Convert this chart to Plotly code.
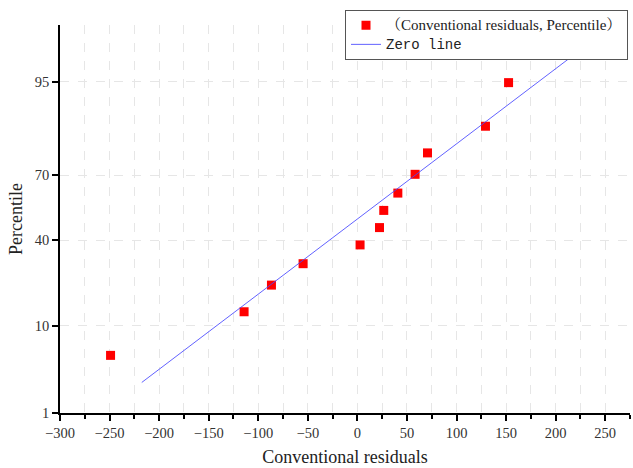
import plotly.graph_objects as go
from statistics import NormalDist

# Data
residuals = [-249, -114.3, -86.7, -54.8, 2.7, 22.3, 26.6, 40.8, 58.2, 70.7, 129.2, 152.5]
percentiles = [5.1, 13.3, 21.4, 29.6, 37.8, 45.9, 54.1, 62.2, 70.4, 78.6, 86.7, 94.9]
line_x = [-217.5, 217.5]
line_pct = [2.5, 97.5]
y_tick_labels = [1, 10, 40, 70, 95]

nd = NormalDist()
def probit(p):
    return nd.inv_cdf(p / 100.0)

serif = "Liberation Serif, Times New Roman, Noto Serif CJK SC, serif"

fig = go.Figure()
fig.add_trace(go.Scatter(
    x=residuals, y=[probit(p) for p in percentiles], mode="markers",
    marker=dict(symbol="square", size=9, color="#ff0000"),
    name='<span style="font-size:15px">（Conventional residuals, Percentile）</span>'))
fig.add_trace(go.Scatter(
    x=line_x, y=[probit(p) for p in line_pct], mode="lines",
    line=dict(color="rgba(70,70,255,0.85)", width=1),
    name='<span style="font-family:Liberation Mono, monospace;font-size:14px">Zero line</span>'))

fig.update_layout(
    width=633, height=468,
    margin=dict(l=60, r=3, t=25, b=55, autoexpand=False),
    paper_bgcolor="white", plot_bgcolor="white",
    font=dict(family=serif, color="#222222", size=13),
    showlegend=True,
    legend=dict(x=0.5, y=1.039, xanchor="left", yanchor="top",
                bordercolor="#555555", borderwidth=1, bgcolor="white",
                font=dict(size=11, family=serif), tracegroupgap=0,
                itemwidth=30),
    xaxis=dict(
        range=[-300, 275], tickmode="linear", tick0=-300, dtick=50,
        showline=True, linecolor="black", linewidth=1.5,
        ticks="outside", ticklen=6, tickcolor="black", tickwidth=1.5,
        showgrid=True, gridcolor="#e6e6e6", griddash="dash", gridwidth=1,
        zeroline=False,
        minor=dict(dtick=25, ticks="outside", ticklen=4, tickcolor="black",
                   showgrid=True, gridcolor="#e6e6e6", griddash="dash"),
        title=dict(text="Conventional residuals", font=dict(size=18, family=serif), standoff=10),
        tickfont=dict(size=14.5, family=serif, color="#333333"),
    ),
    yaxis=dict(
        range=[probit(1), probit(99)],
        tickmode="array", tickvals=[probit(v) for v in y_tick_labels],
        ticktext=[str(v) for v in y_tick_labels],
        showline=True, linecolor="black", linewidth=1.5,
        ticks="outside", ticklen=6, tickcolor="black", tickwidth=1.5,
        showgrid=True, gridcolor="#e6e6e6", griddash="dash", gridwidth=1,
        zeroline=False,
        title=dict(text="Percentile", font=dict(size=18, family=serif), standoff=8),
        tickfont=dict(size=14.5, family=serif, color="#333333"),
    ),
)

fig.write_html("out.html", config={"displayModeBar": False},
               post_script="document.body.style.margin='0px';")
